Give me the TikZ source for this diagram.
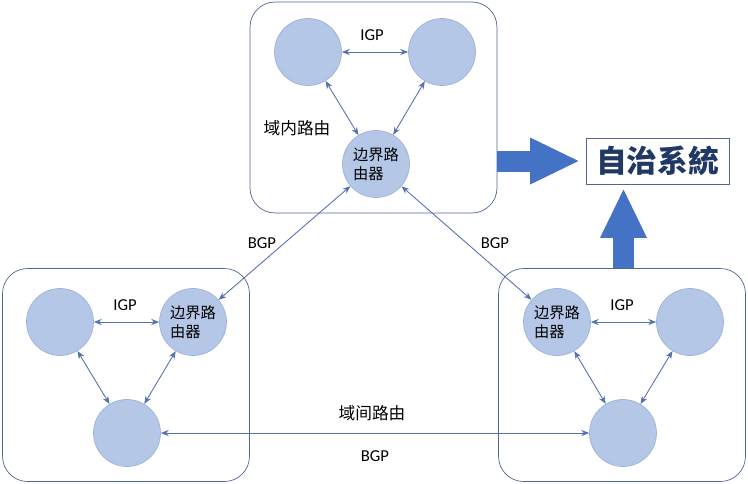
\documentclass[tikz,border=0pt]{standalone}
\usepackage{fontspec}
\setmainfont{Carlito}
\newfontfamily\cjk{Noto Sans CJK SC}
\usetikzlibrary{arrows.meta, positioning}

\definecolor{rtfill}{HTML}{B4C7E7}
\definecolor{rtline}{HTML}{9DB2D9}
\definecolor{linkc}{HTML}{5571B2}
\definecolor{boxc}{HTML}{50669A}
\definecolor{bigc}{HTML}{4472C4}
\definecolor{navy}{HTML}{1F3864}

\begin{document}
\begin{tikzpicture}[
  x=0.02cm, y=-0.02cm,
  asbox/.style={draw=boxc, rounded corners=0.5cm, minimum width=4.94cm,
                minimum height=4.26cm, inner sep=0pt},
  rt/.style={circle, fill=rtfill, draw=rtline, minimum size=1.34cm,
             inner sep=0pt, align=left, font=\cjk\fontsize{8.7}{10.5}\selectfont},
  link/.style={{Stealth[length=4.5pt,width=3.5pt]}-{Stealth[length=4.5pt,width=3.5pt]},
               draw=linkc, line width=0.5pt},
  lbl/.style={font=\fontsize{9.5}{11}\selectfont},
  cjklbl/.style={font=\cjk\fontsize{9.5}{11}\selectfont},
  bigarr/.style={draw=bigc, line width=0.42cm,
                 -{Triangle[length=1cm, width=0.86cm, fill=bigc]}}
]
\useasboundingbox (0,0) rectangle (748,484);

% autonomous systems
\node[asbox, minimum height=4.22cm] (as1) at (373.5,107.5) {};
\node[asbox] (as2) at (126,375) {};
\node[asbox] (as3) at (622,375) {};

% routers
\node[rt] (a1) at (308,52) {};
\node[rt] (a2) at (442,52) {};
\node[rt] (ab) at (376,164) {边界路\\由器};

\node[rt] (b1) at (60,322) {};
\node[rt] (bb) at (193,322) {边界路\\由器};
\node[rt] (b3) at (127,433) {};

\node[rt] (cb) at (557,322) {边界路\\由器};
\node[rt] (c2) at (690,322) {};
\node[rt] (c3) at (623,433) {};

% IGP links
\draw[link] (a1) -- (a2);
\draw[link] (a1) -- (ab);
\draw[link] (a2) -- (ab);
\draw[link] (b1) -- (bb);
\draw[link] (b1) -- (b3);
\draw[link] (bb) -- (b3);
\draw[link] (cb) -- (c2);
\draw[link] (cb) -- (c3);
\draw[link] (c2) -- (c3);

% BGP links
\draw[link] (ab) -- (bb);
\draw[link] (ab) -- (cb);
\draw[link] (b3) -- (c3);

% labels
\node[lbl] (igp1) at (372,35) {IGP};
\node[lbl] (igp2) at (125,305) {IGP};
\node[lbl] (igp3) at (622,305) {IGP};
\node[cjklbl] (intra) at (297,128) {域内路由};
\node[lbl] (bgp1) at (262,243) {BGP};
\node[lbl] (bgp2) at (495,243) {BGP};
\node[cjklbl] (inter) at (372,413) {域间路由};
\node[lbl] (bgp3) at (375,456) {BGP};

% autonomous system
\node[draw=boxc, minimum width=2.86cm, minimum height=0.92cm, inner sep=0pt,
      text=navy, font=\cjk\bfseries\fontsize{17.5}{20}\selectfont]
  (sys) at (657.5,161) {自治系統};
\coordinate (uptip) at (623.5,188);
\coordinate (righttip) at (580,161);
\draw[bigarr] (as1.east |- righttip) -- (righttip);
\draw[bigarr] (as3.north -| uptip) -- (uptip);
\end{tikzpicture}
\end{document}
